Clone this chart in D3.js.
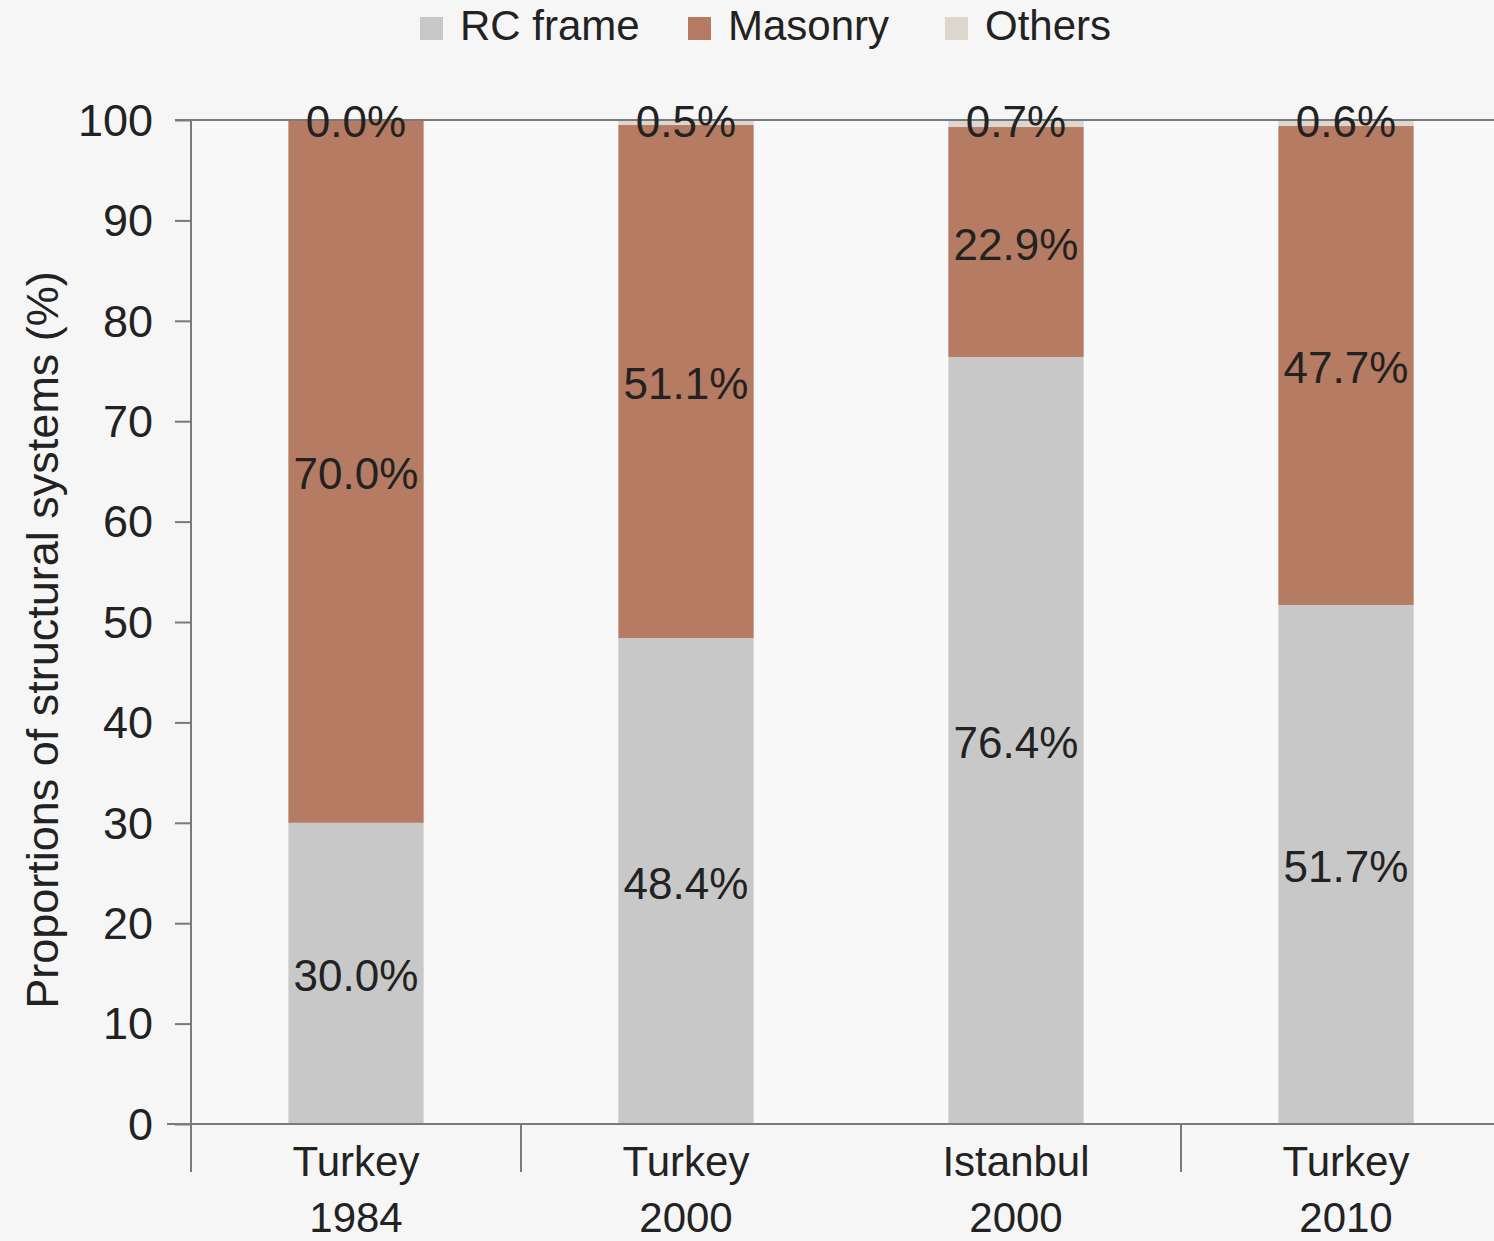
<!DOCTYPE html>
<html>
<head>
<meta charset="utf-8">
<script src="https://cdn.jsdelivr.net/npm/d3@7"></script>
<style>
  html, body { margin: 0; padding: 0; background: #f6f6f6; }
  svg { display: block; }
</style>
</head>
<body>
<svg id="chart" width="1494" height="1241"></svg>
<script>
const categories = ["Turkey 1984", "Turkey 2000", "Istanbul 2000", "Turkey 2010"];
const catLine1 = ["Turkey", "Turkey", "Istanbul", "Turkey"];
const catLine2 = ["1984", "2000", "2000", "2010"];
const rcFrame = [30.0, 48.4, 76.4, 51.7];
const masonry = [70.0, 51.1, 22.9, 47.7];
const others  = [0.0, 0.5, 0.7, 0.6];
const seriesNames = ["RC frame", "Masonry", "Others"];
const yTicks = [0, 10, 20, 30, 40, 50, 60, 70, 80, 90, 100];
const groupBoundaries = [1, 3]; // separators before these category indices

const colors = { "RC frame": "#c8c8c8", "Masonry": "#b67b63", "Others": "#ddd6cf" };

const svg = d3.select("#chart");
const W = 1494, H = 1241;
const m = { left: 191, top: 120, bottom: 1124 };

svg.append("rect").attr("width", W).attr("height", H).attr("fill", "#f6f6f6");
svg.append("rect").attr("x", m.left).attr("y", m.top).attr("width", W - m.left).attr("height", m.bottom - m.top).attr("fill", "#f9f9f9");

const x = d3.scaleBand().domain(categories).range([m.left, m.left + 330 * 4]).padding(0);
const y = d3.scaleLinear().domain([0, 100]).range([m.bottom, m.top]);
const barW = x.bandwidth() * 0.41;

const rows = categories.map((c, i) => ({ cat: c, "RC frame": rcFrame[i], "Masonry": masonry[i], "Others": others[i] }));
const stack = d3.stack().keys(seriesNames)(rows);

const font = "'Liberation Sans', Arial, sans-serif";

// bars
stack.forEach(layer => {
  svg.append("g").selectAll("rect").data(layer).join("rect")
    .attr("x", d => x(d.data.cat) + (x.bandwidth() - barW) / 2)
    .attr("width", barW)
    .attr("y", d => y(d[1]))
    .attr("height", d => y(d[0]) - y(d[1]))
    .attr("fill", colors[layer.key]);
});

// top border line
svg.append("line").attr("x1", 175).attr("x2", W).attr("y1", y(100)).attr("y2", y(100))
  .attr("stroke", "#7a7a7a").attr("stroke-width", 2);

// y axis
const yAxis = d3.axisLeft(y).tickValues(yTicks).tickSize(16).tickPadding(22).tickFormat(d3.format("d"));
const gy = svg.append("g").attr("transform", `translate(${m.left},0)`).call(yAxis);
gy.select(".domain").remove();
gy.selectAll(".tick line").attr("stroke", "#7a7a7a").attr("stroke-width", 2);
gy.selectAll(".tick text").attr("font-family", font).attr("font-size", 45).attr("fill", "#222")
  .attr("dy", "0.34em");
svg.append("line").attr("x1", m.left).attr("x2", m.left).attr("y1", m.top).attr("y2", 1172)
  .attr("stroke", "#7a7a7a").attr("stroke-width", 2);

// x axis line
svg.append("line").attr("x1", 167).attr("x2", W).attr("y1", m.bottom).attr("y2", m.bottom)
  .attr("stroke", "#7a7a7a").attr("stroke-width", 2);
// group separators
groupBoundaries.forEach(i => {
  const xx = x(categories[i]);
  svg.append("line").attr("x1", xx).attr("x2", xx).attr("y1", m.bottom).attr("y2", 1172)
    .attr("stroke", "#7a7a7a").attr("stroke-width", 2);
});

// category labels
categories.forEach((c, i) => {
  const cx = x(c) + x.bandwidth() / 2;
  svg.append("text").attr("x", cx).attr("y", 1176).attr("text-anchor", "middle")
    .attr("font-family", font).attr("font-size", 42).attr("fill", "#222").text(catLine1[i]);
  svg.append("text").attr("x", cx).attr("y", 1232).attr("text-anchor", "middle")
    .attr("font-family", font).attr("font-size", 42).attr("fill", "#222").text(catLine2[i]);
});

// data labels
const fmt = d => d.toFixed(1) + "%";
stack.forEach(layer => {
  svg.append("g").selectAll("text").data(layer).join("text")
    .attr("x", d => x(d.data.cat) + x.bandwidth() / 2)
    .attr("y", d => layer.key === "Others" ? y(100) + 5 : (y(d[0]) + y(d[1])) / 2 + 6)
    .attr("text-anchor", "middle")
    .attr("dominant-baseline", "middle")
    .attr("font-family", font).attr("font-size", 44).attr("fill", "#222")
    .text(d => fmt(d.data[layer.key]));
});

// y axis title
svg.append("text").attr("transform", `translate(46, 640) rotate(-90)`)
  .attr("text-anchor", "middle").attr("dominant-baseline", "middle")
  .attr("font-family", font).attr("font-size", 45).attr("fill", "#222")
  .text("Proportions of structural systems (%)");

// legend
const legendX = [420, 688, 945];
seriesNames.forEach((s, i) => {
  const g = svg.append("g").attr("transform", `translate(${legendX[i]}, 17)`);
  g.append("rect").attr("width", 23).attr("height", 23).attr("fill", colors[s]);
  g.append("text").attr("x", 40).attr("y", 12).attr("dominant-baseline", "middle")
    .attr("font-family", font).attr("font-size", 42).attr("fill", "#222").text(s);
});
</script>
</body>
</html>
